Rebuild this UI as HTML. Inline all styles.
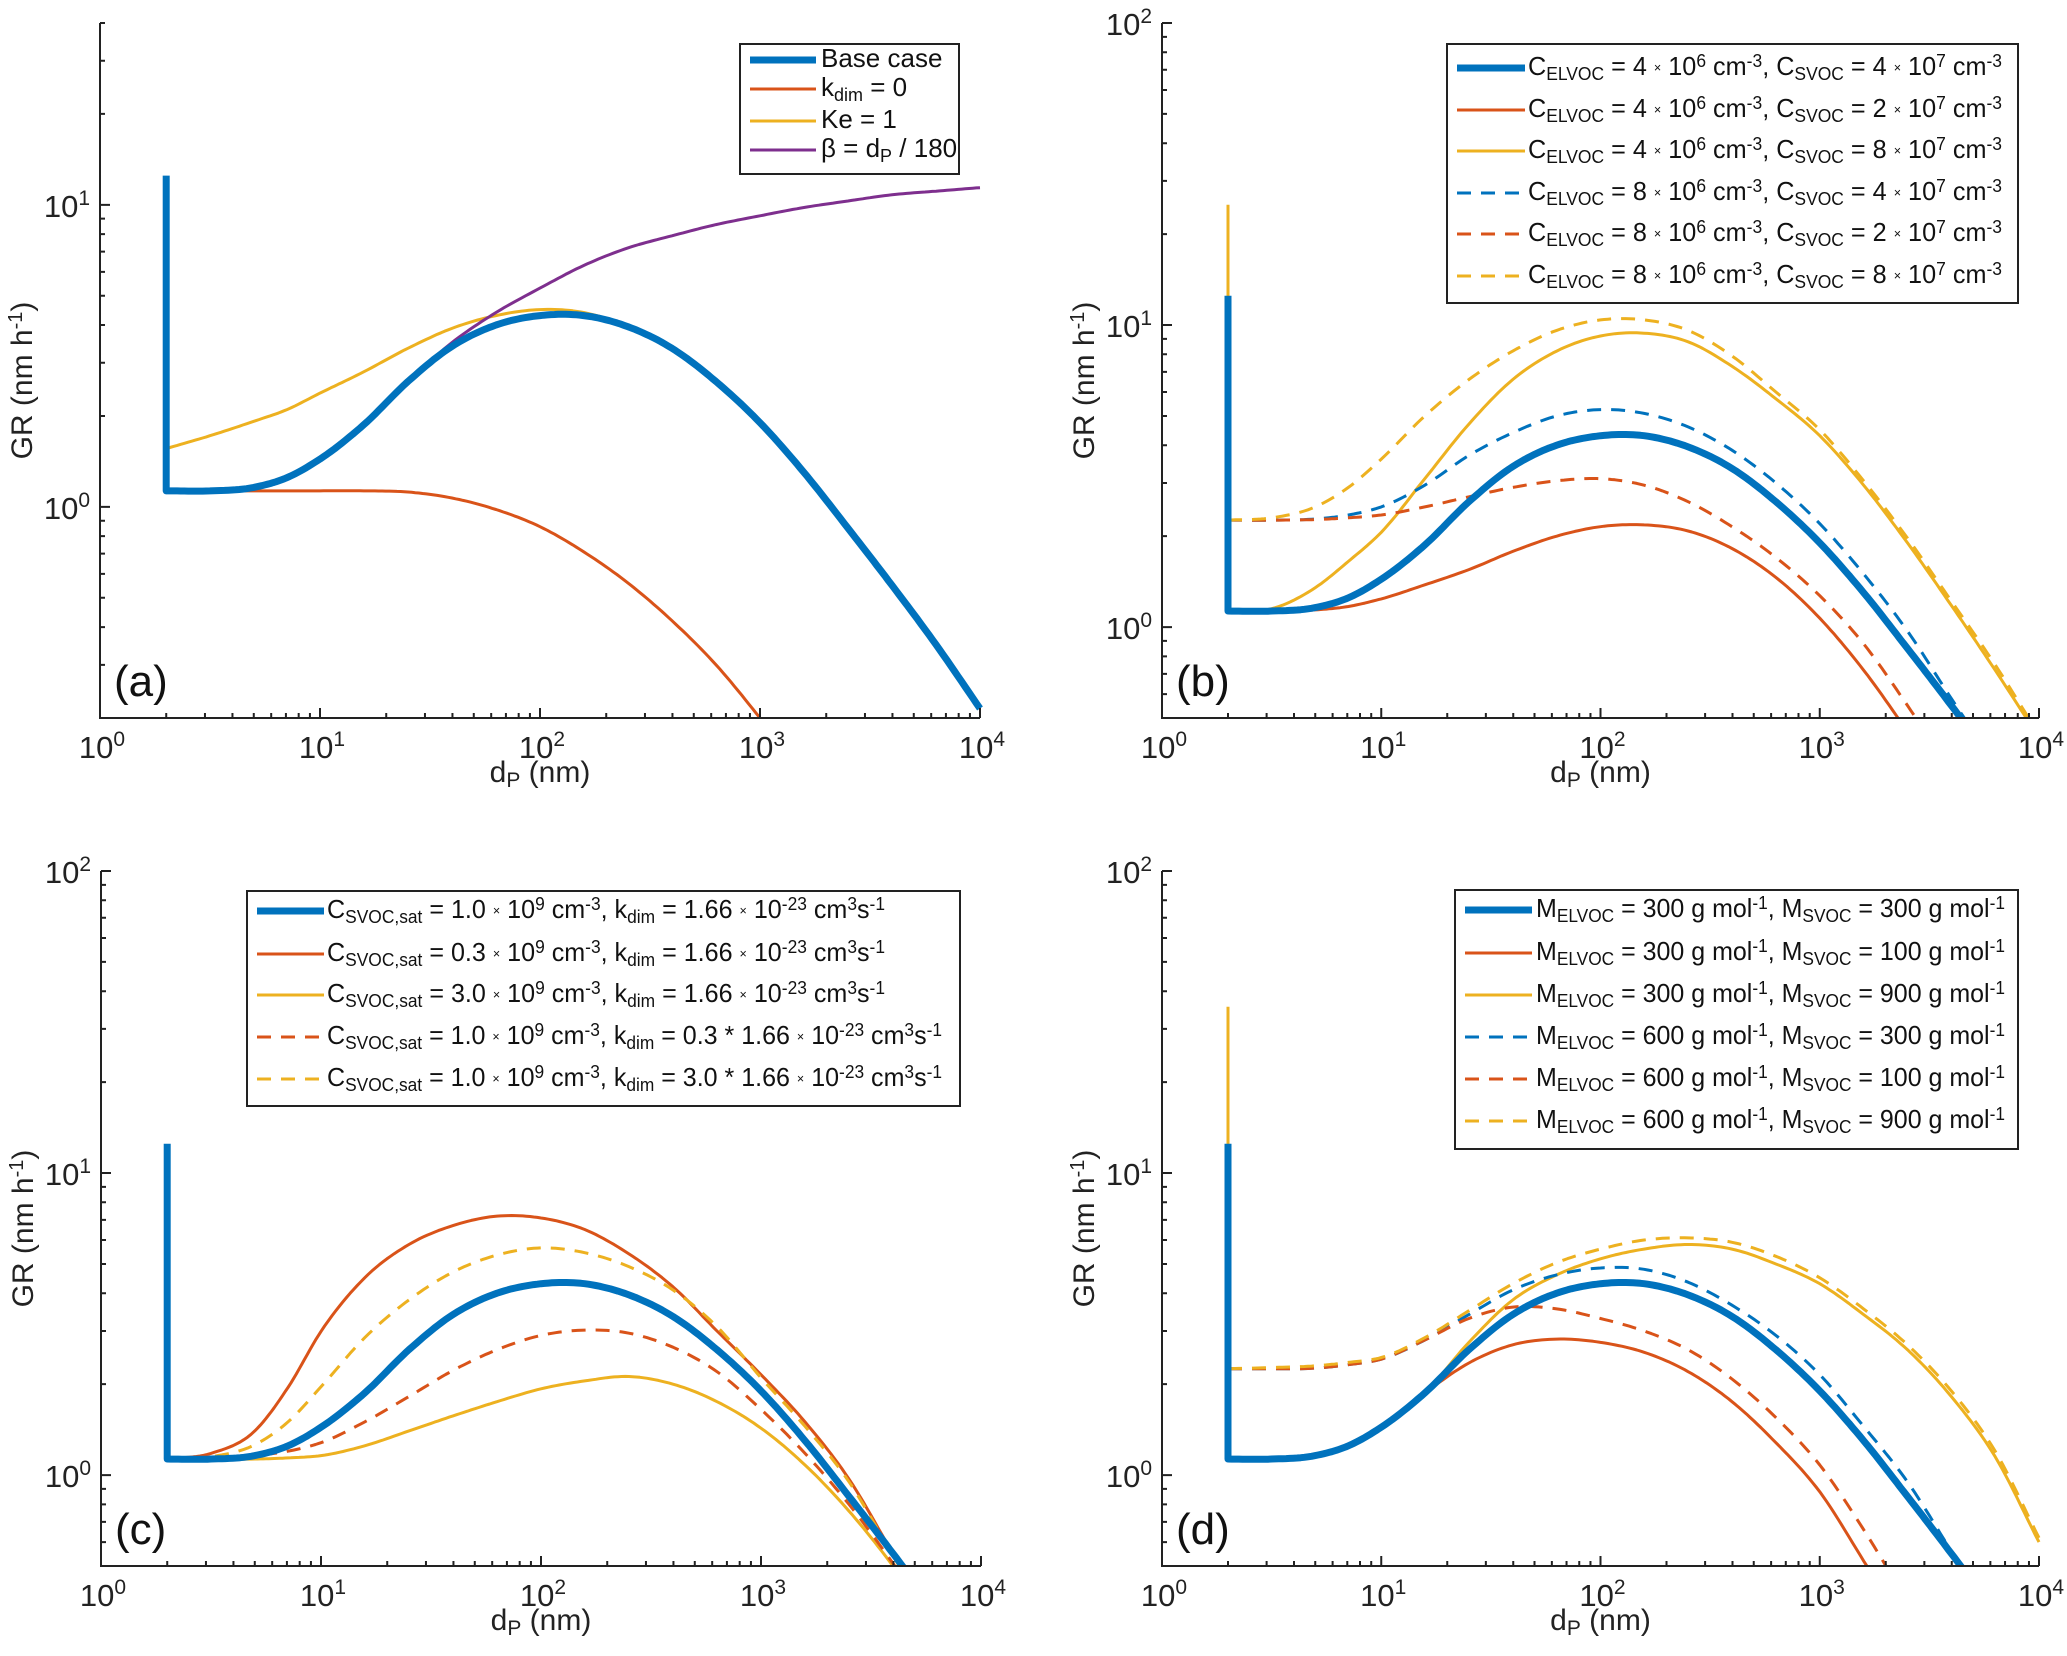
<!DOCTYPE html>
<html><head><meta charset="utf-8"><title>GR vs dP</title>
<style>
html,body{margin:0;padding:0;background:#fff;overflow:hidden;width:2067px;height:1656px;}
svg{display:block;font-family:"Liberation Sans",Arial,sans-serif;}
</style></head>
<body>
<svg id="fig" width="2067" height="1656" viewBox="0 0 2067 1656" xmlns="http://www.w3.org/2000/svg">
<rect width="2067" height="1656" fill="#fff"/>
</svg>
<script>
// particle diameters (nm); first point duplicated for the spike at dP = 2 nm
const dp = [2,2,3.16,5,7.08,10,15.8,25.1,39.8,63.1,100,158,251,398,631,1000,1585,2512,3981,6310,10000];
const baseCase = [12.5,1.13,1.13,1.16,1.25,1.44,1.87,2.6,3.4,4.0,4.3,4.3,3.95,3.35,2.6,1.9,1.3,0.85,0.55,0.35,0.215];
// panel a
const aKdim0 = [1.13,1.13,1.13,1.13,1.13,1.13,1.13,1.12,1.07,0.98,0.86,0.71,0.56,0.42,0.3,0.2,0.13,0.08,0.05,0.03,0.02];
const aKe1 = [1.56,1.56,1.72,1.92,2.1,2.38,2.8,3.35,3.9,4.3,4.5,4.4,3.95,3.35,2.6,1.9,1.3,0.85,0.55,0.35,0.215];
const aBeta = [1.13,1.13,1.13,1.16,1.25,1.44,1.87,2.6,3.5,4.4,5.3,6.3,7.2,7.9,8.6,9.2,9.8,10.3,10.8,11.1,11.4];
// panel b
const bE4S2 = [1.13,1.13,1.13,1.14,1.17,1.24,1.38,1.55,1.78,2.0,2.15,2.18,2.08,1.82,1.46,1.07,0.72,0.45,0.27,0.16,0.09];
const bE4S8 = [25,1.13,1.15,1.35,1.65,2.06,3.1,4.7,6.6,8.2,9.2,9.4,8.8,7.3,5.7,4.3,2.95,1.9,1.18,0.72,0.43];
const bE8S4 = [2.26,2.26,2.26,2.28,2.35,2.5,2.95,3.7,4.4,5.0,5.25,5.1,4.6,3.85,3.0,2.2,1.5,0.97,0.58,0.35,0.2];
const bE8S2 = [2.26,2.26,2.26,2.27,2.3,2.35,2.5,2.7,2.9,3.05,3.1,2.95,2.6,2.15,1.7,1.27,0.88,0.55,0.33,0.19,0.11];
const bE8S8 = [2.26,2.26,2.3,2.5,2.9,3.6,5.0,6.6,8.2,9.6,10.4,10.4,9.6,7.9,6.0,4.5,3.05,1.97,1.22,0.75,0.44];
// panel c
const cSat03 = [1.13,1.13,1.18,1.4,1.95,2.99,4.5,5.8,6.7,7.2,7.1,6.5,5.4,4.2,3.0,2.15,1.5,0.97,0.55,0.32,0.18];
const cSat30 = [1.13,1.13,1.13,1.13,1.14,1.16,1.25,1.4,1.57,1.75,1.93,2.05,2.12,2.0,1.75,1.43,1.08,0.76,0.5,0.31,0.18];
const cK03 = [1.13,1.13,1.13,1.16,1.2,1.28,1.5,1.82,2.22,2.6,2.9,3.02,2.95,2.65,2.2,1.65,1.18,0.8,0.51,0.31,0.18];
const cK30 = [1.13,1.13,1.15,1.26,1.5,1.96,2.85,3.8,4.7,5.35,5.65,5.45,4.9,4.1,3.1,2.1,1.45,0.95,0.54,0.31,0.18];
// panel d
const dE3S1 = [1.13,1.13,1.13,1.16,1.25,1.44,1.87,2.35,2.7,2.82,2.75,2.55,2.2,1.75,1.28,0.88,0.52,0.3,0.17,0.1,0.06];
const dE3S9 = [35.5,1.13,1.13,1.16,1.25,1.44,1.87,2.75,3.8,4.6,5.2,5.6,5.8,5.6,5.0,4.3,3.4,2.6,1.82,1.15,0.6];
const dE6S3 = [2.25,2.25,2.25,2.26,2.32,2.42,2.8,3.4,4.1,4.6,4.85,4.8,4.35,3.65,2.9,2.15,1.45,0.95,0.56,0.33,0.19];
const dE6S1 = [2.25,2.25,2.25,2.26,2.32,2.42,2.8,3.3,3.6,3.55,3.3,3.0,2.6,2.08,1.55,1.08,0.66,0.38,0.22,0.13,0.08];
const dE6S9 = [2.25,2.25,2.27,2.3,2.36,2.45,2.85,3.5,4.3,5.05,5.6,6.0,6.1,5.9,5.3,4.5,3.55,2.7,1.9,1.2,0.62];

const NS='http://www.w3.org/2000/svg';
const svg=document.getElementById('fig');
const BLUE='#0072BD',RED='#D95319',YEL='#EDB120',PUR='#7E2F8E';
function mk(tag,attrs,parent){const e=document.createElementNS(NS,tag);for(const k in attrs)e.setAttribute(k,attrs[k]);(parent||svg).appendChild(e);return e;}
const SUB='<tspan baseline-shift="-30%" font-size="18">', SUP='<tspan baseline-shift="45%" font-size="18">', X='<tspan font-size="13" baseline-shift="20%">×</tspan>', E='</tspan>';

const panels=[
 {id:'a',x0:100,x1:980,y0:23,y1:718,ymin:0.2,ymax:40,yt:[0,1],letter:'(a)',
  series:[[baseCase,BLUE,7,false,'base-case'],[aKdim0,RED,3,false,'kdim-zero'],[aKe1,YEL,3,false,'ke-one'],[aBeta,PUR,3,false,'beta-dp']],
  legend:{x:740,y:44,w:219,h:130,lx:[750,816],tx:821,rows:[60,89,121,150],fs:26,
   labels:['Base case','k'+SUB+'dim'+E+' = 0','Ke = 1','β = d'+SUB+'P'+E+' / 180']}},
 {id:'b',x0:1162,x1:2039,y0:23,y1:718,ymin:0.5,ymax:100,yt:[0,1,2],letter:'(b)',
  series:[[baseCase,BLUE,7,false,'base-case'],[bE4S2,RED,3,false,'elvoc4-svoc2'],[bE4S8,YEL,3,false,'elvoc4-svoc8'],[bE8S4,BLUE,3,true,'elvoc8-svoc4'],[bE8S2,RED,3,true,'elvoc8-svoc2'],[bE8S8,YEL,3,true,'elvoc8-svoc8']],
  legend:{x:1447,y:44,w:571,h:259,lx:[1457,1525],tx:1528,rows:[68,110,151,193,234,276],fs:26,tl:474,
   labels:[[4,4],[4,2],[4,8],[8,4],[8,2],[8,8]].map(p=>'C'+SUB+'ELVOC'+E+' = '+p[0]+' '+X+' 10'+SUP+'6'+E+' cm'+SUP+'-3'+E+', C'+SUB+'SVOC'+E+' = '+p[1]+' '+X+' 10'+SUP+'7'+E+' cm'+SUP+'-3'+E)}},
 {id:'c',x0:101,x1:981,y0:871,y1:1566,ymin:0.5,ymax:100,yt:[0,1,2],letter:'(c)',
  series:[[baseCase,BLUE,7,false,'base-case'],[cSat03,RED,3,false,'csat-0.3'],[cSat30,YEL,3,false,'csat-3.0'],[cK03,RED,3,true,'kdim-0.3x'],[cK30,YEL,3,true,'kdim-3.0x']],
  legend:{x:247,y:891,w:713,h:215,lx:[257,324],tx:327,rows:[911,954,995,1037,1079],fs:26,
   labels:[['1.0','1.66'],['0.3','1.66'],['3.0','1.66'],['1.0','0.3 * 1.66'],['1.0','3.0 * 1.66']].map(p=>'C'+SUB+'SVOC,sat'+E+' = '+p[0]+' '+X+' 10'+SUP+'9'+E+' cm'+SUP+'-3'+E+', k'+SUB+'dim'+E+' = '+p[1]+' '+X+' 10'+SUP+'-23'+E+' cm'+SUP+'3'+E+'s'+SUP+'-1'+E),
   tls:[558,558,558,615,615]}},
 {id:'d',x0:1162,x1:2039,y0:871,y1:1566,ymin:0.5,ymax:100,yt:[0,1,2],letter:'(d)',
  series:[[baseCase,BLUE,7,false,'base-case'],[dE3S1,RED,3,false,'melvoc300-msvoc100'],[dE3S9,YEL,3,false,'melvoc300-msvoc900'],[dE6S3,BLUE,3,true,'melvoc600-msvoc300'],[dE6S1,RED,3,true,'melvoc600-msvoc100'],[dE6S9,YEL,3,true,'melvoc600-msvoc900']],
  legend:{x:1455,y:890,w:563,h:259,lx:[1465,1532],tx:1536,rows:[910,953,995,1037,1079,1121],fs:26,tl:469,
   labels:[[300,300],[300,100],[300,900],[600,300],[600,100],[600,900]].map(p=>'M'+SUB+'ELVOC'+E+' = '+p[0]+' g mol'+SUP+'-1'+E+', M'+SUB+'SVOC'+E+' = '+p[1]+' g mol'+SUP+'-1'+E)}}
];

// cubic Hermite with weighted finite-difference tangents (log-log space)
function splineSample(lx,ly,n){
  const m=lx.length, d=[], t=new Array(m);
  for(let i=0;i<m-1;i++)d.push((ly[i+1]-ly[i])/(lx[i+1]-lx[i]));
  t[0]=d[0];t[m-1]=d[m-2];
  for(let i=1;i<m-1;i++){const h0=lx[i]-lx[i-1],h1=lx[i+1]-lx[i];t[i]=(d[i-1]*h1+d[i]*h0)/(h0+h1);}
  const out=[];
  for(let i=0;i<m-1;i++){
    const h=lx[i+1]-lx[i];
    for(let k=0;k<n;k++){
      const s=k/n, s2=s*s, s3=s2*s;
      const y=(2*s3-3*s2+1)*ly[i]+(s3-2*s2+s)*h*t[i]+(-2*s3+3*s2)*ly[i+1]+(s3-s2)*h*t[i+1];
      out.push([lx[i]+s*h,y]);
    }
  }
  out.push([lx[m-1],ly[m-1]]);
  return out;
}

panels.forEach(P=>{
  const g=mk('g',{});
  
  
  const xs=v=>P.x0+Math.log10(v)/4*(P.x1-P.x0);
  const lmin=Math.log10(P.ymin),lmax=Math.log10(P.ymax);
  const ysl=l=>P.y1-(l-lmin)/(lmax-lmin)*(P.y1-P.y0);
  const ys=v=>ysl(Math.log10(v));
  const xsl=l=>P.x0+l/4*(P.x1-P.x0);
  const cp=mk('clipPath',{id:'clip'+P.id},g);
  mk('rect',{x:P.x0,y:P.y0-2,width:P.x1-P.x0+4,height:P.y1-P.y0+2},cp);
  const sg=mk('g',{'clip-path':'url(#clip'+P.id+')'},g);
  const order=P.series.slice(1).concat([P.series[0]]);
  order.forEach(s=>{
    const vals=s[0];
    const lx=dp.slice(1).map(v=>Math.log10(v)), ly=vals.slice(1).map(v=>Math.log10(v));
    const smp=splineSample(lx,ly,12);
    let d='M'+xs(dp[0]).toFixed(1)+' '+ys(vals[0]).toFixed(1);
    smp.forEach(p=>{d+=' L'+xsl(p[0]).toFixed(1)+' '+ysl(p[1]).toFixed(1);});
    const path=mk('path',{d:d,fill:'none',stroke:s[1],'stroke-width':s[2],'stroke-linejoin':'round'},sg);
    if(s[3])path.setAttribute('stroke-dasharray','14 10');
    
    
  });
  const ax=mk('path',{d:'M'+P.x0+' '+P.y0+' V'+P.y1+' H'+P.x1,fill:'none',stroke:'#222','stroke-width':2},g);
  
  
  let tk='';
  for(let e=0;e<=4;e++){const x=xs(Math.pow(10,e));tk+='M'+x+' '+P.y1+' v-10 ';
    if(e<4)for(let m=2;m<=9;m++){const xm=xs(m*Math.pow(10,e));tk+='M'+xm+' '+P.y1+' v-5 ';}}
  for(let e=-1;e<=2;e++)for(let m=1;m<=9;m++){const v=m*Math.pow(10,e);if(v<P.ymin-1e-9||v>P.ymax+1e-9)continue;
    tk+='M'+P.x0+' '+ys(v)+' h'+(m===1?10:5)+' ';}
  const tp=mk('path',{d:tk,stroke:'#222','stroke-width':2,fill:'none'},g);
  
  
  for(let e=0;e<=4;e++){
    const t=mk('text',{x:xs(Math.pow(10,e))+2,y:P.y1+40,'text-anchor':'middle','font-size':31,fill:'#222'},g);
    t.innerHTML='10<tspan baseline-shift="55%" font-size="21">'+e+'</tspan>';
    
    
  }
  P.yt.forEach(e=>{
    const t=mk('text',{x:P.x0-10,y:ys(Math.pow(10,e))+12,'text-anchor':'end','font-size':31,fill:'#222'},g);
    t.innerHTML='10<tspan baseline-shift="55%" font-size="21">'+e+'</tspan>';
    
    
  });
  const xl=mk('text',{x:(P.x0+P.x1)/2,y:P.y1+64,'text-anchor':'middle','font-size':30,fill:'#222'},g);
  xl.innerHTML='d<tspan baseline-shift="-25%" font-size="21">P</tspan> (nm)';
  
  
  const yx=P.x0-68, yc=(P.y0+P.y1)/2+10;
  const yl=mk('text',{x:yx,y:yc,'text-anchor':'middle','font-size':30,fill:'#222',transform:'rotate(-90 '+yx+' '+yc+')'},g);
  yl.innerHTML='GR (nm h<tspan baseline-shift="50%" font-size="20">-1</tspan>)';
  
  
  const lt=mk('text',{x:P.x0+14,y:P.y1-22,'font-size':44,fill:'#111'},g);
  lt.textContent=P.letter;
  
  
  const L=P.legend;
  const lg=mk('g',{},g);
  
  
  mk('rect',{x:L.x,y:L.y,width:L.w,height:L.h,fill:'#fff',stroke:'#222','stroke-width':2},lg);
  P.series.forEach((s,i)=>{
    const ln=mk('line',{x1:L.lx[0],x2:L.lx[1],y1:L.rows[i],y2:L.rows[i],stroke:s[1],'stroke-width':s[2]},lg);
    if(s[3])ln.setAttribute('stroke-dasharray','14 10');
    
    
    const t=mk('text',{x:L.tx,y:L.rows[i]+7,'font-size':L.fs,fill:'#111'},lg);
    const tl=L.tls?L.tls[i]:L.tl;
    if(tl){t.setAttribute('textLength',tl);t.setAttribute('lengthAdjust','spacingAndGlyphs');}
    t.innerHTML=L.labels[i];
    
    
  });
});
</script>
</body></html>
